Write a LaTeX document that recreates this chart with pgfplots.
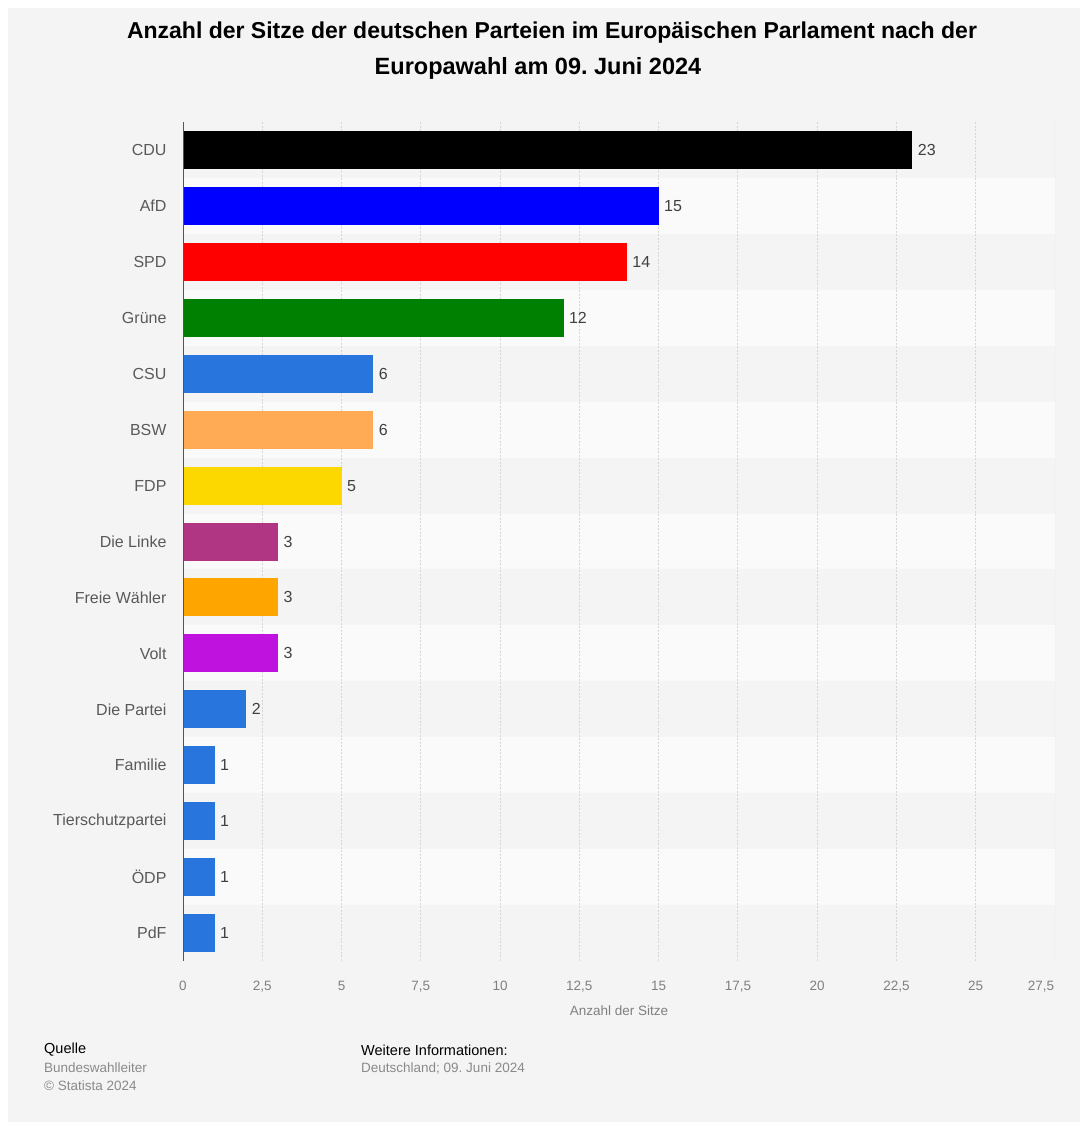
\documentclass[border=0pt]{standalone}
\usepackage{pgfplots}
\pgfplotsset{compat=1.18}
\usepackage{fontspec}
\setmainfont{Liberation Sans}
\frenchspacing
\definecolor{panel}{HTML}{F4F4F4}
\definecolor{stripe}{HTML}{FAFAFA}
\definecolor{gridc}{HTML}{D6D6D6}
\definecolor{catc}{HTML}{595959}
\definecolor{tickc}{HTML}{808080}
\definecolor{valc}{HTML}{404040}
\definecolor{axisc}{HTML}{555555}
\definecolor{footg}{HTML}{8A8A8A}
\definecolor{cCDU}{HTML}{000000}
\definecolor{cAfD}{HTML}{0000FF}
\definecolor{cSPD}{HTML}{FF0000}
\definecolor{cGruene}{HTML}{008000}
\definecolor{cBlue}{HTML}{2876DD}
\definecolor{cBSW}{HTML}{FFAA55}
\definecolor{cFDP}{HTML}{FCD800}
\definecolor{cLinke}{HTML}{B03683}
\definecolor{cFW}{HTML}{FFA500}
\definecolor{cVolt}{HTML}{BF12DE}
\newcommand{\fs}[1]{\fontsize{#1}{#1}\selectfont}
\begin{document}
\begin{tikzpicture}
\fill[white] (0pt,0pt) rectangle (1086pt,-1126pt);
\fill[panel] (8pt,-8pt) rectangle (1080pt,-1122pt);
\node[font=\bfseries\fs{23}, text=black] at (552pt,-33pt) {Anzahl der Sitze der deutschen Parteien im Europäischen Parlament nach der};
\node[font=\bfseries\fs{23.5}, text=black] at (538pt,-68pt) {Europawahl am 09. Juni 2024};
\begin{axis}[
  at={(183pt,-961pt)}, anchor=south west,
  scale only axis, width=872pt, height=839pt,
  xbar, bar shift=0pt, bar width=0.68,
  xmin=0, xmax=27.5, ymin=-0.5, ymax=14.5, y dir=reverse,
  xtick={0,2.5,...,25},
  extra x ticks={27.5},
  extra x tick style={xticklabel style={xshift=-14pt}},
  ytick={0,...,14},
  yticklabels={CDU,AfD,SPD,Grüne,CSU,BSW,FDP,Die Linke,Freie Wähler,Volt,Die Partei,Familie,Tierschutzpartei,ÖDP,PdF},
  major tick length=0pt,
  axis line style={draw=none},
  /pgf/number format/assume math mode=true,
  /pgf/number format/use comma,
  xticklabel style={font=\fs{13.5}, text=tickc, yshift=-17pt},
  yticklabel style={font=\fs{16}, text=catc, xshift=-13pt},
  xlabel={Anzahl der Sitze},
  xlabel style={font=\fs{13.5}, text=tickc, yshift=-6pt},
  point meta=x,
  nodes near coords,
  nodes near coords style={font=\fs{16}, text=valc, anchor=west, xshift=2pt},
  every axis plot/.append style={draw=none},
]
% alternating row stripes and dotted grid, drawn below the bars
\pgfplotsinvokeforeach{1,3,5,7,9,11,13}{
  \fill[stripe] (axis cs:0,{#1-0.5}) rectangle (axis cs:27.5,{#1+0.5});
}
\pgfplotsinvokeforeach{2.5,5,7.5,10,12.5,15,17.5,20,22.5,25,27.5}{
  \draw[gridc, line width=0.9pt, dash pattern=on 2pt off 1.5pt] (axis cs:#1,-0.5) -- (axis cs:#1,14.5);
}
\addplot[fill=cCDU] coordinates {(23,0)};
\addplot[fill=cAfD] coordinates {(15,1)};
\addplot[fill=cSPD] coordinates {(14,2)};
\addplot[fill=cGruene] coordinates {(12,3)};
\addplot[fill=cBlue] coordinates {(6,4)};
\addplot[fill=cBSW] coordinates {(6,5)};
\addplot[fill=cFDP] coordinates {(5,6)};
\addplot[fill=cLinke] coordinates {(3,7)};
\addplot[fill=cFW] coordinates {(3,8)};
\addplot[fill=cVolt] coordinates {(3,9)};
\addplot[fill=cBlue] coordinates {(2,10)};
\addplot[fill=cBlue] coordinates {(1,11)};
\addplot[fill=cBlue] coordinates {(1,12)};
\addplot[fill=cBlue] coordinates {(1,13)};
\addplot[fill=cBlue] coordinates {(1,14)};
\draw[axisc, line width=1.5pt] (axis cs:0,-0.5) -- (axis cs:0,14.5);
\end{axis}
\begin{scope}[every node/.style={anchor=west, inner sep=0pt}]
\node[font=\fs{14.5}, text=black] at (44pt,-1050pt) {Quelle};
\node[font=\fs{13.5}, text=footg] at (44pt,-1068pt) {Bundeswahlleiter};
\node[font=\fs{13.5}, text=footg] at (44pt,-1086pt) {© Statista 2024};
\node[font=\fs{14.5}, text=black] at (361pt,-1050pt) {Weitere Informationen:};
\node[font=\fs{13.5}, text=footg] at (361pt,-1068pt) {Deutschland; 09. Juni 2024};
\end{scope}
\end{tikzpicture}
\end{document}
